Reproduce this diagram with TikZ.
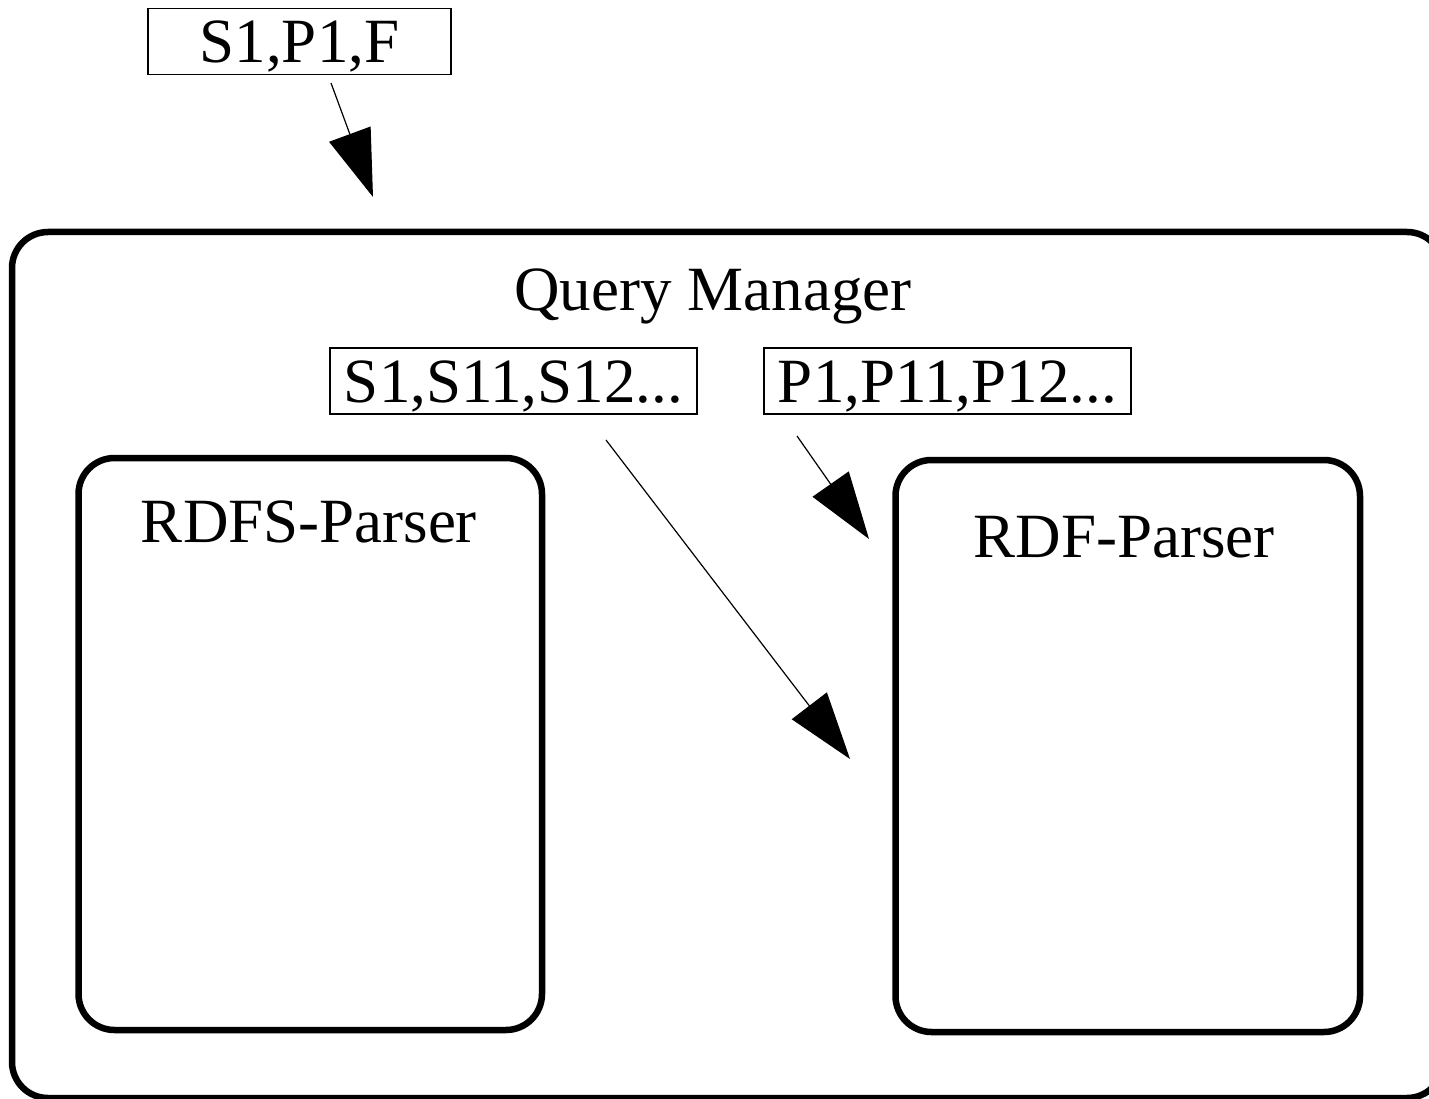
\documentclass[tikz,border=0pt]{standalone}
\usepackage{fontspec}
\setmainfont{Liberation Serif}
\usetikzlibrary{arrows.meta}
\begin{document}
\begin{tikzpicture}[x=1pt,y=-1pt,
  every node/.style={font=\fontsize{63}{75}\selectfont},
  smallbox/.style={draw,line width=1.2pt,inner sep=0pt,minimum height=66pt,text height=43pt,text depth=0pt},
  bigbox/.style={draw,line width=6.5pt,rounded corners=36pt,inner sep=0pt},
  label/.style={inner sep=0pt,anchor=base},
  conn/.style={line width=1.2pt,-{Triangle[length=67pt,width=44pt]}}]
\useasboundingbox (0,0) rectangle (1429,1099);
% outer container
\node[bigbox,minimum width=1431pt,minimum height=866pt] (qm) at (727.5,665) {};
\node[label] (qmlabel) at (713,310) {Query Manager};
% inner parsers
\node[bigbox,minimum width=463.5pt,minimum height=572pt] (rdfs) at (310.25,744) {};
\node[label] (rdfslabel) at (309,542) {RDFS-Parser};
\node[bigbox,minimum width=464.5pt,minimum height=572pt] (rdf) at (1127.75,746) {};
\node[label] (rdflabel) at (1124,557) {RDF-Parser};
% small boxes
\node[smallbox,minimum width=303pt] (spf) at (299.5,41.5) {S1,P1,F};
\node[smallbox,minimum width=367pt] (sbox) at (513.5,381) {S1,S11,S12...};
\node[smallbox,minimum width=367pt] (pbox) at (947.5,381) {P1,P11,P12...};
% connector ends
\coordinate (a1s) at (331,83);
\coordinate (a1e) at (373,197);
\coordinate (a2s) at (606,440);
\coordinate (a2e) at (850,759);
\coordinate (a3s) at (797,436);
\coordinate (a3e) at (869,539);
\draw[conn] (a1s) -- (a1e);
\draw[conn] (a2s) -- (a2e);
\draw[conn] (a3s) -- (a3e);
\end{tikzpicture}
\end{document}
